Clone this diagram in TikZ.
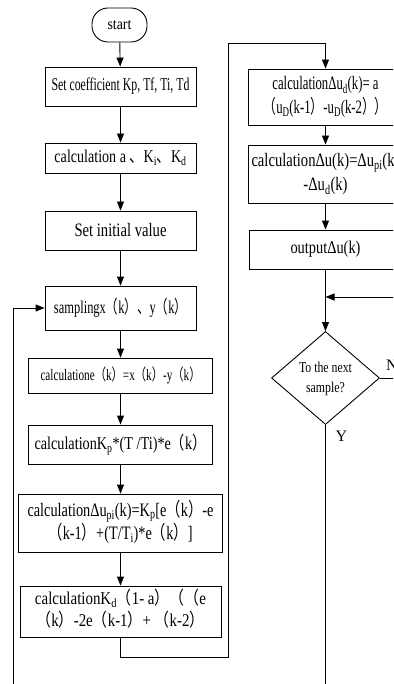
\documentclass[tikz,border=0pt]{standalone}
\usepackage{fontspec}
\usepackage{graphicx}
\setmainfont{Liberation Serif}
\newfontfamily\cjk{Noto Sans CJK SC}
\usetikzlibrary{arrows.meta,shapes.geometric}
% full-width punctuation
\newcommand\lp{{\cjk （}}
\newcommand\rp{{\cjk ）}}
\newcommand\dn{{\cjk 、}}
\newcommand\sub[1]{\textsubscript{#1}}
% squeeze a text to a given width, keeping its height
\newcommand\fitw[2]{\resizebox{#1}{\height}{#2}}
\newcommand\two[2]{\begin{tabular}{@{}c@{}}#1\\#2\end{tabular}}

\tikzset{
  box/.style={draw, line width=0.9pt, inner sep=0pt, align=center},
  term/.style={box, rounded corners=16pt},
  decide/.style={draw, line width=0.9pt, diamond, inner sep=0pt, align=center},
  flow/.style={line width=0.9pt, -{Triangle[length=9pt,width=7pt]}},
  lbl/.style={inner sep=0pt, font=\fontsize{16}{18}\selectfont}
}

\begin{document}
\begin{tikzpicture}[x=1pt,y=-1pt]
\useasboundingbox (0,0) rectangle (393,684);
\clip (0,0) rectangle (393,684);

% left column
\node[term, minimum width=55pt, minimum height=34pt] (st) at (119.5,25)
  {\fontsize{16}{19}\selectfont\fitw{24pt}{start}};
\node[box, minimum width=151pt, minimum height=39pt] (b1) at (120.5,86.5)
  {\fontsize{18}{22}\selectfont\fitw{138pt}{Set coefficient Kp, Tf, Ti, Td}};
\node[box, minimum width=151pt, minimum height=30pt] (b2) at (120.5,158)
  {\fontsize{18}{22}\selectfont\fitw{132pt}{calculation a \dn K\sub{i}\dn K\sub{d}}};
\node[box, minimum width=151pt, minimum height=39pt] (b3) at (120.5,230.5)
  {\fontsize{19}{23}\selectfont\fitw{92pt}{Set initial value}};
\node[box, minimum width=151pt, minimum height=44pt] (b4) at (120.5,308)
  {\fontsize{18}{22}\selectfont\fitw{133pt}{samplingx\lp k\rp\dn y\lp k\rp}};
\node[box, minimum width=184pt, minimum height=35pt] (b5) at (120.5,375.5)
  {\fontsize{16}{19}\selectfont\fitw{160pt}{calculatione\lp k\rp =x\lp k\rp -y\lp k\rp}};
\node[box, minimum width=184pt, minimum height=39pt] (b6) at (120.5,444.5)
  {\fontsize{18}{21}\selectfont\fitw{172pt}{calculationK\sub{p}*(T /Ti)*e\lp k\rp}};
\node[box, minimum width=204pt, minimum height=58pt] (b7) at (120.5,523)
  {\fontsize{19}{22}\selectfont\fitw{186pt}{\two{calculationΔu\sub{pi}(k)=K\sub{p}[e\lp k\rp -e}{\lp k-1\rp +(T/T\sub{i})*e\lp k\rp ]}}};
\node[box, minimum width=201pt, minimum height=51pt] (b8) at (120.5,611.5)
  {\fontsize{18}{22}\selectfont\fitw{171pt}{\two{calculationK\sub{d}\lp 1- a\rp\lp\lp e}{\lp k\rp -2e\lp k-1\rp + \lp k-2\rp}}};

% right column
\node[box, minimum width=154pt, minimum height=56pt] (b9) at (325.5,97)
  {\fontsize{19}{24}\selectfont\fitw{124pt}{\two{calculationΔu\sub{d}(k)= a}{\lp u\sub{D}(k-1\rp -u\sub{D}(k-2\rp\rp}}};
\node[box, minimum width=154pt, minimum height=58pt] (b10) at (325.5,174)
  {\fontsize{19}{24}\selectfont\fitw{148pt}{\two{calculationΔu(k)=Δu\sub{pi}(k)}{-Δu\sub{d}(k)}}};
\node[box, minimum width=152pt, minimum height=39pt] (b11) at (325.5,249.5)
  {\fontsize{18}{22}\selectfont\fitw{70pt}{outputΔu(k)}};
\node[decide, minimum width=108pt, minimum height=70pt] (dia) at (325.5,378)
  {\fontsize{15}{20}\selectfont\fitw{53pt}{\two{To the next}{sample?}}};

\coordinate (jn) at (325.5,297);
\coordinate (c2) at (228,657);
\coordinate (c4) at (325.5,43);
\coordinate (lc) at (13,700);

\node[lbl, anchor=west] (nl) at (386,365) {N};
\node[lbl] (yl) at (341.5,436.5) {Y};

% connectors
\draw[flow] (st) -- (b1);
\draw[flow] (b1) -- (b2);
\draw[flow] (b2) -- (b3);
\draw[flow] (b3) -- (b4);
\draw[flow] (b4) -- (b5);
\draw[flow] (b5) -- (b6);
\draw[flow] (b6) -- (b7);
\draw[flow] (b7) -- (b8);
\draw[flow] (b8.south) |- (c2) |- (c4) -- (b9.north);
\draw[flow] (b9) -- (b10);
\draw[flow] (b10) -- (b11);
\draw[flow] (b11) -- (dia);
\draw[flow] (dia.east) -- ++(30,0) |- (jn);
\draw[flow] (dia.south) |- (lc) |- (b4.west);
\end{tikzpicture}
\end{document}
